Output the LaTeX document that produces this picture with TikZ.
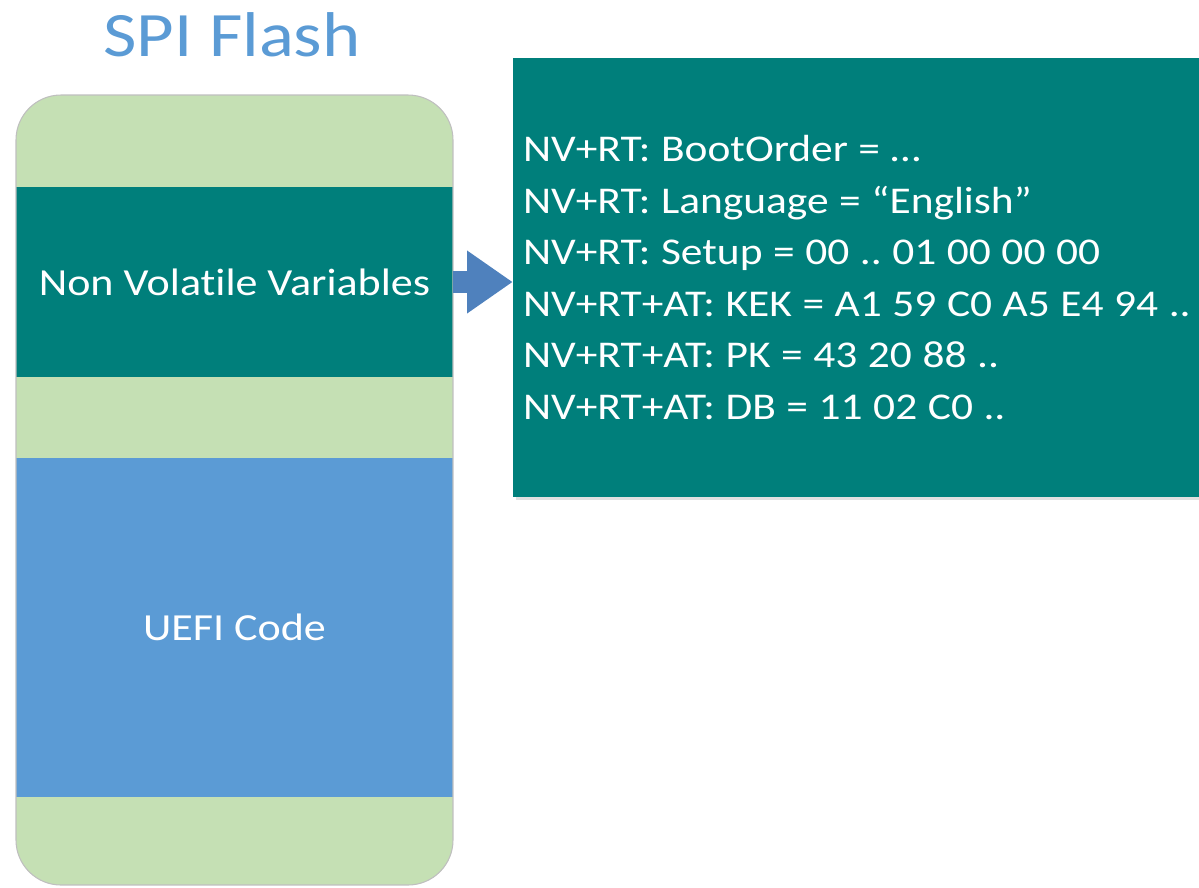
\documentclass[tikz,border=0pt]{standalone}
\usepackage{fontspec}
\setmainfont{Carlito}[FakeStretch=1.15, Ligatures=NoCommon]
\usetikzlibrary{arrows.meta}
\definecolor{tealbox}{HTML}{007F7B}
\definecolor{lgreen}{HTML}{C5E0B4}
\definecolor{codeblue}{HTML}{5B9BD5}
\definecolor{arrowblue}{HTML}{4F81BD}
\definecolor{titleblue}{HTML}{5B9BD5}
\newcommand\tightsp{\spaceskip=6pt plus 1pt minus 1pt\relax}
\frenchspacing
\begin{document}
\begin{tikzpicture}[x=0.02cm,y=-0.02cm,
  band/.style={rectangle, inner sep=0pt, minimum width=8.74cm, fill=#1},
  bandtext/.style={text=white, font=\fontsize{21.8}{26}\selectfont},
  flow/.style={arrowblue, line width=13pt, -{Triangle[length=26pt,width=34pt]}}
]
\useasboundingbox (0,0) rectangle (1199,887);
% title
\node[anchor=base, text=titleblue, font=\fontsize{36}{43}\selectfont, inner sep=0pt] (title) at (232,56) {SPI Flash};
% flash bands
\begin{scope}
  \clip[rounded corners=0.9cm] (16,95) rectangle (453,885);
  \node[band=lgreen, minimum height=1.84cm] (b1) at (234.5,141) {};
  \node[band=tealbox, minimum height=3.8cm] (nv) at (234.5,282) {};
  \node[band=lgreen, minimum height=1.62cm] (b3) at (234.5,417.5) {};
  \node[band=codeblue, minimum height=6.78cm] (code) at (234.5,627.5) {};
  \node[band=lgreen, minimum height=1.76cm] (b5) at (234.5,841) {};
\end{scope}
\draw[black!25, line width=0.6pt, rounded corners=0.9cm] (16,95) rectangle (453,885);
\node[bandtext] (nvtext) at (nv) {Non Volatile Variables};
\node[bandtext] (codetext) at (code) {UEFI Code};
% variables box
\fill[black!12] (516,61) rectangle (1199,500);
\node[rectangle, fill=tealbox, inner sep=0pt, minimum width=13.72cm,
  minimum height=8.78cm] (vars) at (856,277.5) {};
\node[anchor=west, inner sep=0pt, align=left, text=white,
  font=\fontsize{21.5}{29.3}\selectfont\tightsp]
  (varstext) at ([xshift=0.2cm]vars.west) {%
NV+RT: BootOrder = …\\
NV+RT: Language = “English”\\
NV+RT: Setup = 00 .. 01 00 00 00\\
NV+RT+AT: KEK = A1 59 C0 A5 E4 94 ..\\
NV+RT+AT: PK = 43 20 88 ..\\
NV+RT+AT: DB = 11 02 C0 ..};
% arrow
\draw[flow] (nv.east) -- (nv.east -| vars.west);
\end{tikzpicture}
\end{document}
